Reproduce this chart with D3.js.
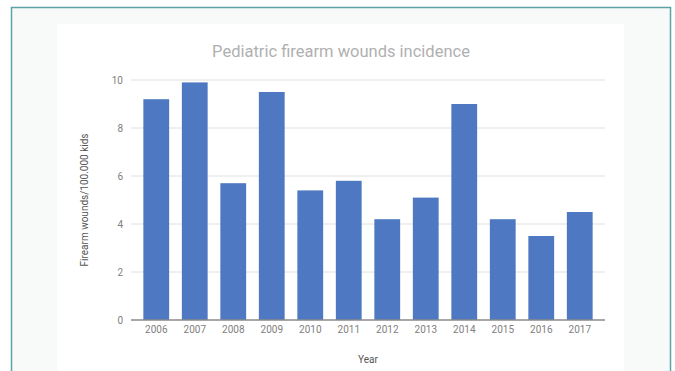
<!DOCTYPE html>
<html>
<head>
<meta charset="utf-8">
<script src="https://cdn.jsdelivr.net/npm/d3@7"></script>
<style>
  body { margin: 0; background: #fff; }
  text { font-family: Roboto, "Noto Sans", sans-serif; }
</style>
</head>
<body>
<div class="chart"></div>
<script>
var width = 675,
  height = 371;

// data
var years = ['2006','2007','2008','2009','2010','2011','2012','2013','2014','2015','2016','2017'];
var values = [9.2, 9.9, 5.7, 9.5, 5.4, 5.8, 4.2, 5.1, 9.0, 4.2, 3.5, 4.5];
var yTicks = [0, 2, 4, 6, 8, 10];

var svg = d3.select('.chart')
  .append('svg')
  .attr('width', width)
  .attr('height', height);

// outer frame + panel
svg.append('rect')
  .attr('x', 11.5).attr('y', 7.5)
  .attr('width', 659).attr('height', 380)
  .attr('fill', '#f8fafa')
  .attr('stroke', '#5ea3a3')
  .attr('stroke-width', 1.5);

svg.append('rect')
  .attr('x', 57).attr('y', 24)
  .attr('width', 567).attr('height', 360)
  .attr('fill', '#fff');

//SCALES
var xScale = d3.scaleBand()
  .domain(years)
  .range([137, 599])
  .paddingInner(0.33)
  .paddingOuter(0.165);

var yScale = d3.scaleLinear()
  .domain([0, 10])
  .range([320, 80]);

//GRID
svg.selectAll('.grid')
  .data(yTicks.filter(function(d){ return d > 0; }))
  .enter()
  .append('line')
  .attr('class', 'grid')
  .attr('x1', 131).attr('x2', 605)
  .attr('y1', function(d){ return yScale(d); })
  .attr('y2', function(d){ return yScale(d); })
  .attr('stroke', '#e0e0e0')
  .attr('stroke-width', 1);

//Y AXIS
var yAxis = d3.axisLeft(yScale).tickValues(yTicks).tickSize(0).tickPadding(8);
var yAxisG = svg.append('g')
  .attr('transform', 'translate(131,0)')
  .call(yAxis);
yAxisG.select('.domain').remove();
yAxisG.selectAll('text')
  .attr('fill', '#808080')
  .style('font-size', '10px');

//BARS
svg.selectAll('.bar')
  .data(values)
  .enter()
  .append('rect')
  .attr('class', 'bar')
  .attr('x', function(d, i){ return xScale(years[i]); })
  .attr('width', xScale.bandwidth())
  .attr('y', function(d){ return yScale(d); })
  .attr('height', function(d){ return yScale(0) - yScale(d); })
  .attr('fill', '#4e78c1');

//X AXIS
var xAxis = d3.axisBottom(xScale).tickSize(0).tickPadding(6);
var xAxisG = svg.append('g')
  .attr('transform', 'translate(0,320)')
  .call(xAxis);
xAxisG.select('.domain')
  .attr('d', 'M131,0H605')
  .attr('stroke', '#8a8a8a')
  .attr('stroke-width', 1.5);
xAxisG.selectAll('text')
  .attr('fill', '#808080')
  .style('font-size', '10px');

//TITLES
svg.append('text')
  .attr('x', 341).attr('y', 57)
  .attr('text-anchor', 'middle')
  .attr('fill', '#b0b0b0')
  .style('font-size', '16.5px')
  .text('Pediatric firearm wounds incidence');

svg.append('text')
  .attr('x', 368).attr('y', 363)
  .attr('text-anchor', 'middle')
  .attr('fill', '#555')
  .style('font-size', '10px')
  .text('Year');

svg.append('text')
  .attr('transform', 'translate(88,200) rotate(-90)')
  .attr('text-anchor', 'middle')
  .attr('fill', '#555')
  .style('font-size', '10px')
  .text('Firearm wounds/100.000 kids');
</script>
</body>
</html>
